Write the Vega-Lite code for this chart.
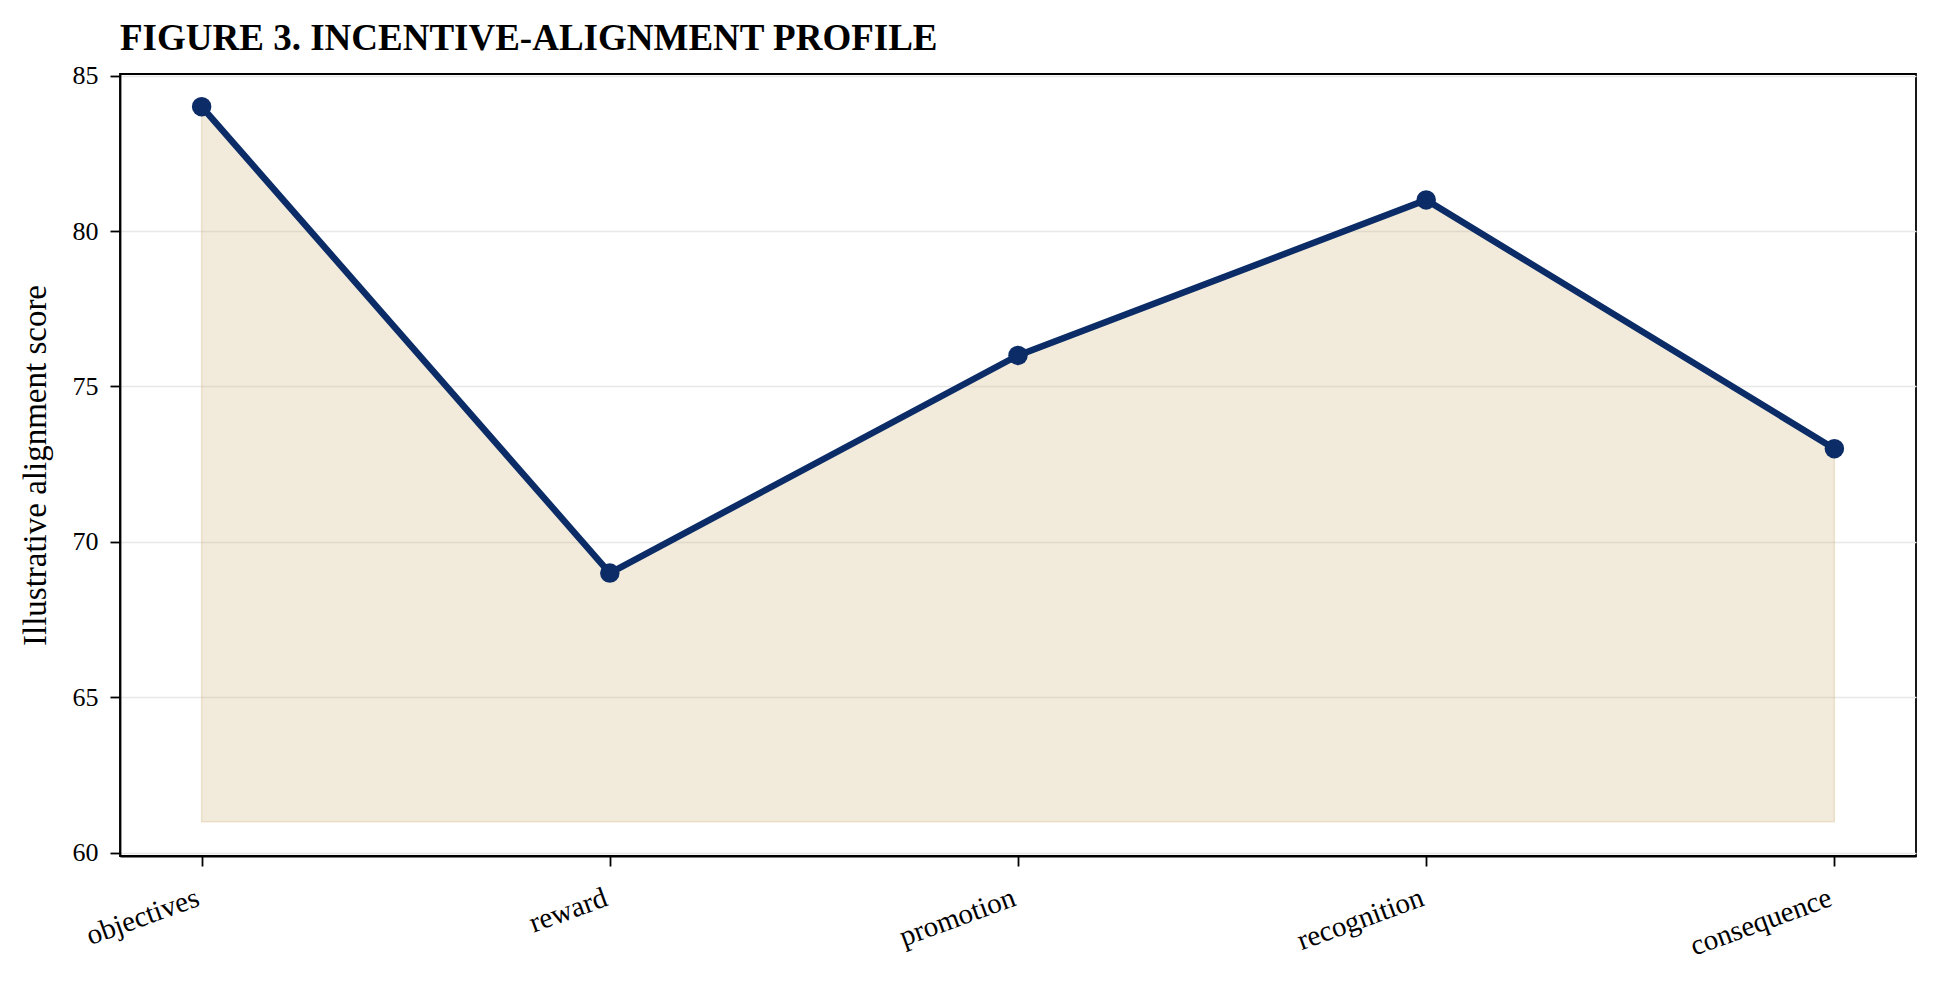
{
  "$schema": "https://vega.github.io/schema/vega-lite/v6.json",
  "width": 1796,
  "height": 782,
  "autosize": "none",
  "padding": {"left": 120, "top": 74, "right": 24, "bottom": 127},
  "background": "white",
  "title": {
    "text": "FIGURE 3. INCENTIVE-ALIGNMENT PROFILE",
    "anchor": "start",
    "frame": "group",
    "font": "Liberation Serif",
    "fontSize": 37,
    "fontWeight": "bold",
    "color": "black",
    "offset": 5
  },
  "config": {
    "view": {"stroke": "black", "strokeWidth": 1.8},
    "axis": {
      "labelFont": "Liberation Serif",
      "titleFont": "Liberation Serif",
      "labelColor": "black",
      "titleColor": "black",
      "domainColor": "black",
      "domainWidth": 1.8,
      "tickColor": "black",
      "tickWidth": 1.8,
      "tickSize": 10,
      "labelFontSize": 26,
      "titleFontSize": 33,
      "titleFontWeight": "normal"
    }
  },
  "data": {
    "values": [
      {"dimension": "objectives", "score": 84},
      {"dimension": "reward", "score": 69},
      {"dimension": "promotion", "score": 76},
      {"dimension": "recognition", "score": 81},
      {"dimension": "consequence", "score": 73}
    ]
  },
  "encoding": {
    "x": {
      "field": "dimension",
      "type": "ordinal",
      "sort": null,
      "scale": {"type": "point", "padding": 0.2},
      "axis": {
        "title": null,
        "labelAngle": -20,
        "labelAlign": "right",
        "labelBaseline": "top",
        "labelFontSize": 29,
        "labelPadding": 17,
        "labelOffset": -9,
        "grid": false
      }
    },
    "y": {
      "field": "score",
      "type": "quantitative",
      "scale": {"domain": [59.9, 85.05], "nice": false, "zero": false},
      "axis": {
        "title": "Illustrative alignment score",
        "values": [60, 65, 70, 75, 80, 85],
        "grid": true,
        "gridColor": "#e8e8e8",
        "gridWidth": 1.5,
        "labelPadding": 12,
        "titlePadding": 20
      }
    }
  },
  "layer": [
    {
      "mark": {"type": "area", "color": "#cdb172", "fillOpacity": 0.25, "stroke": "#cdb172", "strokeOpacity": 0.3, "strokeWidth": 1.5},
      "encoding": {"y2": {"datum": 61}}
    },
    {
      "mark": {"type": "line", "color": "#0b2c66", "strokeWidth": 6.5},
      "encoding": {}
    },
    {
      "mark": {"type": "circle", "color": "#0b2c66", "opacity": 1, "size": 380},
      "encoding": {}
    }
  ]
}
